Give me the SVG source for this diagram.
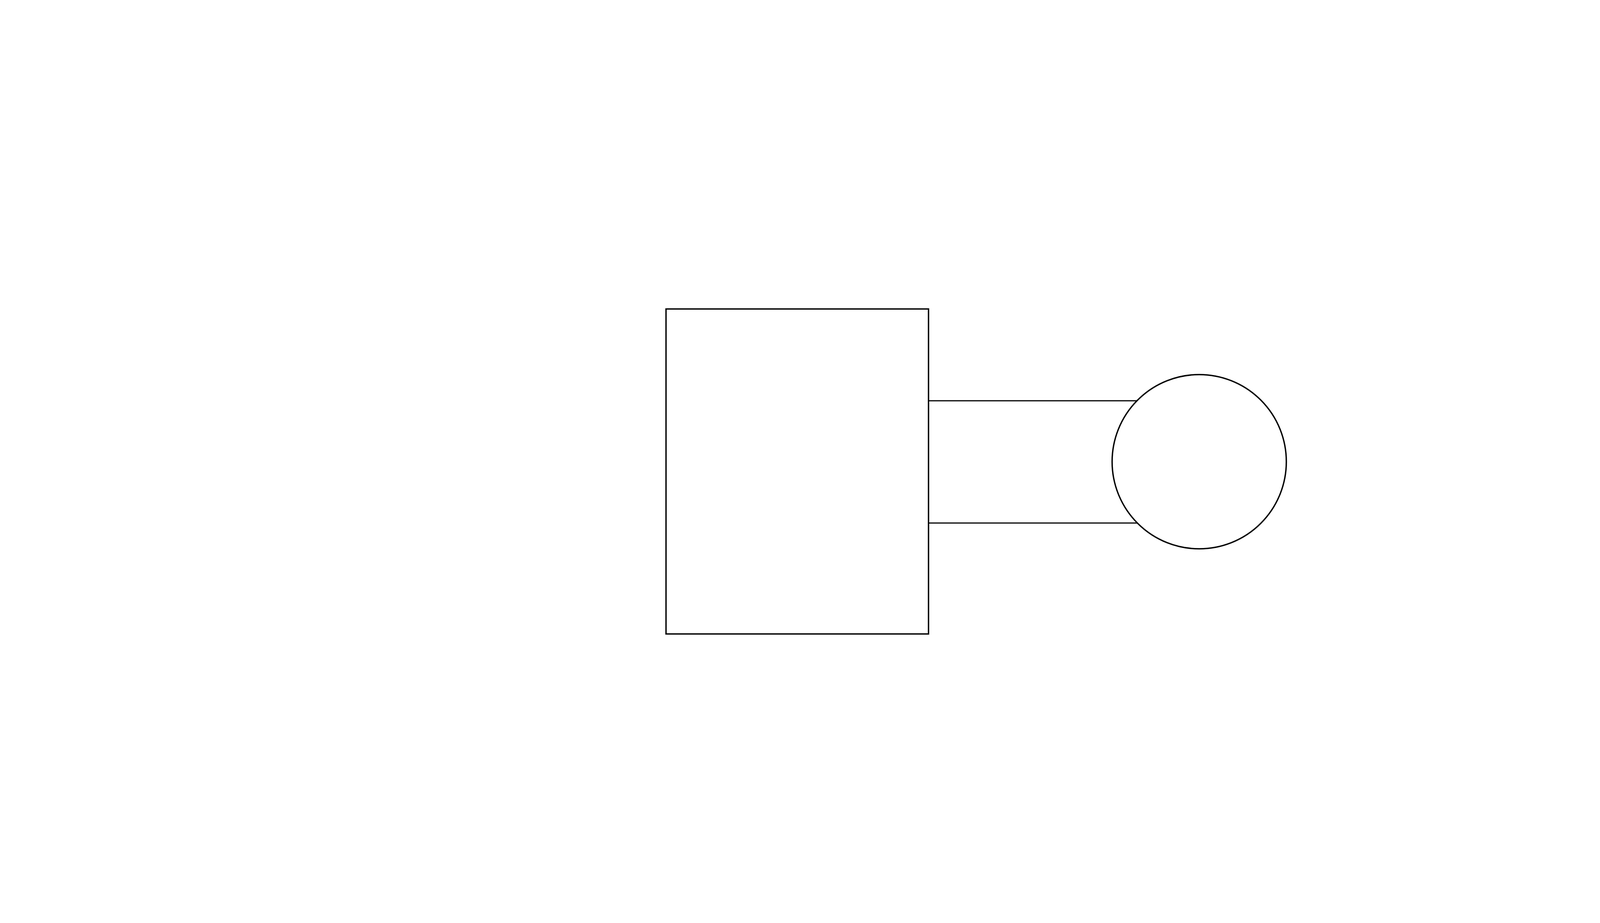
<svg xmlns="http://www.w3.org/2000/svg" width="5000" height="2363" viewBox="0 0 5000 2363">
<style>
.s{fill:#ffffff;stroke:#000000;stroke-width:3.5}
.c{fill:none;stroke:#000000;stroke-width:3}
</style>
<rect width="5000" height="2363" fill="#ffffff"/>
<g id="box"><rect class="s" x="1705" y="791" width="672" height="832"/></g>
<g id="connectors">
<line class="c" x1="2377" y1="1026" x2="2911" y2="1026"/>
<line class="c" x1="2377" y1="1339" x2="2911" y2="1339"/>
</g>
<g id="circle"><circle class="s" cx="3070" cy="1182" r="223"/></g>
</svg>
